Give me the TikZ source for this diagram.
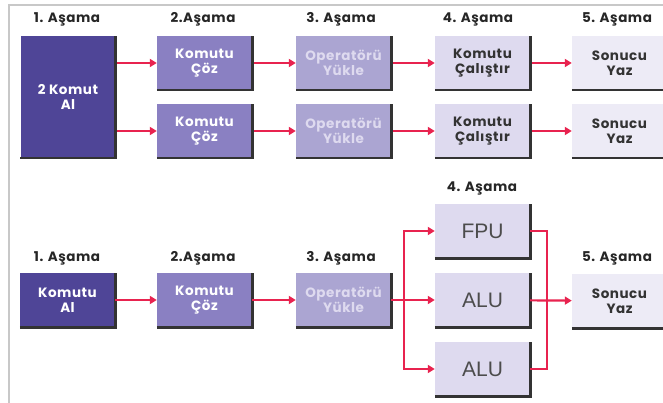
\documentclass[tikz,border=0pt]{standalone}
\usepackage{fontspec}
\setmainfont{Poppins}[LetterSpace=4]
\newfontfamily\unitfont{Liberation Sans}
\usetikzlibrary{arrows.meta}

\definecolor{stageA}{HTML}{4F4597}
\definecolor{stageB}{HTML}{8A80C2}
\definecolor{stageC}{HTML}{ABA5D2}
\definecolor{stageD}{HTML}{DEDAEF}
\definecolor{stageE}{HTML}{EDEBF6}
\definecolor{pipeRed}{HTML}{E8234F}
\definecolor{frameGray}{HTML}{C8C8C8}

\begin{document}
\begin{tikzpicture}[
  x=1pt,
  y=1pt,
  edge/.style={draw=pipeRed, line width=2.2pt},
  arrowedge/.style={edge, -{Triangle[length=7pt,width=8pt]}},
  boxrim/.style={draw=black!80, line width=2.6pt},
  box/.style={
    rectangle,
    minimum width=95pt,
    minimum height=54pt,
    inner sep=1pt,
    align=center,
    font=\fontsize{13.5}{15}\selectfont\bfseries
  },
  stageone/.style={box, fill=stageA, text=white},
  stagetwo/.style={box, fill=stageB, text=white},
  stagethree/.style={box, fill=stageC, text=stageD},
  stagefour/.style={box, fill=stageD, text=black!80},
  stagefive/.style={box, fill=stageE, text=black!80},
  unitbox/.style={stagefour, font=\unitfont\fontsize{21}{22}\selectfont, text=black!70},
  title/.style={font=\fontsize{13.5}{14}\selectfont\bfseries, text=black!85}
]
\useasboundingbox (0,0) rectangle (663,-403);

% frame of the figure (top and left only)
\draw[frameGray, line width=2pt] (8,-5) -- (663,-5);
\draw[frameGray, line width=2pt] (9,-5) -- (9,-403);

% Upper part: two instructions side by side
\node[title] (t1) at (67,-19)  {1. Aşama};
\node[title] (t2) at (203,-19) {2.Aşama};
\node[title] (t3) at (341,-19) {3. Aşama};
\node[title] (t4) at (478,-19) {4. Aşama};
\node[title] (t5) at (617,-19) {5. Aşama};

\node[stageone, minimum height=122pt] (al2) at (68,-97) {2 Komut\\Al};

\node[stagetwo]   (coz1)   at (204.5,-63)  {Komutu\\Çöz};
\node[stagetwo]   (coz2)   at (204.5,-131) {Komutu\\Çöz};
\node[stagethree] (yukle1) at (343.5,-63)  {Operatörü\\Yükle};
\node[stagethree] (yukle2) at (343.5,-131) {Operatörü\\Yükle};
\node[stagefour]  (cal1)   at (482.5,-63)  {Komutu\\Çalıştır};
\node[stagefour]  (cal2)   at (482.5,-131) {Komutu\\Çalıştır};
\node[stagefive]  (yaz1)   at (619.5,-63)  {Sonucu\\Yaz};
\node[stagefive]  (yaz2)   at (619.5,-131) {Sonucu\\Yaz};

\draw[arrowedge] (al2.east |- coz1) -- (coz1);
\draw[arrowedge] (al2.east |- coz2) -- (coz2);
\draw[arrowedge] (coz1) -- (yukle1);
\draw[arrowedge] (coz2) -- (yukle2);
\draw[arrowedge] (yukle1) -- (cal1);
\draw[arrowedge] (yukle2) -- (cal2);
\draw[arrowedge] (cal1) -- (yaz1);
\draw[arrowedge] (cal2) -- (yaz2);

% Lower part: one instruction, three execution units
\node[title] (b1) at (67,-258)  {1. Aşama};
\node[title] (b2) at (203,-258) {2.Aşama};
\node[title] (b3) at (341,-258) {3. Aşama};
\node[title] (b4) at (482,-188) {4. Aşama};
\node[title] (b5) at (617,-258) {5. Aşama};

\node[stageone]   (al)    at (67.5,-300)  {Komutu\\Al};
\node[stagetwo]   (coz)   at (204.5,-300) {Komutu\\Çöz};
\node[stagethree] (yukle) at (343.5,-300) {Operatörü\\Yükle};
\node[unitbox]    (fpu)   at (482.5,-231) {FPU};
\node[unitbox]    (alu1)  at (482.5,-300) {ALU};
\node[unitbox]    (alu2)  at (482.5,-369) {ALU};
\node[stagefive]  (yaz)   at (619.5,-301) {Sonucu\\Yaz};

% dark rim on the bottom and right side of the boxes
\draw[boxrim] (al2.south west)    -- (al2.south east)    -- (al2.north east);
\draw[boxrim] (coz1.south west)   -- (coz1.south east)   -- (coz1.north east);
\draw[boxrim] (coz2.south west)   -- (coz2.south east)   -- (coz2.north east);
\draw[boxrim] (yukle1.south west) -- (yukle1.south east) -- (yukle1.north east);
\draw[boxrim] (yukle2.south west) -- (yukle2.south east) -- (yukle2.north east);
\draw[boxrim] (cal1.south west)   -- (cal1.south east)   -- (cal1.north east);
\draw[boxrim] (cal2.south west)   -- (cal2.south east)   -- (cal2.north east);
\draw[boxrim] (yaz1.south west)   -- (yaz1.south east);
\draw[boxrim] (yaz2.south west)   -- (yaz2.south east);
\draw[boxrim] (al.south west)     -- (al.south east)     -- (al.north east);
\draw[boxrim] (coz.south west)    -- (coz.south east)    -- (coz.north east);
\draw[boxrim] (yukle.south west)  -- (yukle.south east)  -- (yukle.north east);
\draw[boxrim] (fpu.south west)    -- (fpu.south east)    -- (fpu.north east);
\draw[boxrim] (alu1.south west)   -- (alu1.south east)   -- (alu1.north east);
\draw[boxrim] (alu2.south west)   -- (alu2.south east)   -- (alu2.north east);
\draw[boxrim] (yaz.south west)    -- (yaz.south east);

\coordinate (split) at (404,-300);
\coordinate (join)  at (547,-300);

\draw[arrowedge] (al) -- (coz);
\draw[arrowedge] (coz) -- (yukle);
\draw[arrowedge] (yukle) -- (alu1);
\draw[arrowedge] (split) |- (fpu);
\draw[arrowedge] (split) |- (alu2);
\draw[edge] (fpu) -| (join) |- (alu2);
\draw[arrowedge] (alu1) -- (yaz);

\end{tikzpicture}
\end{document}
